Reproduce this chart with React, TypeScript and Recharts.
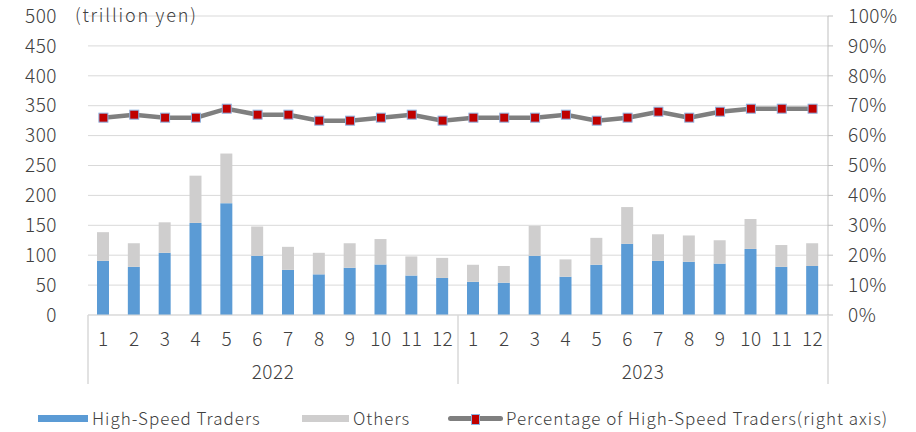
import { ComposedChart, Bar, Line, XAxis, YAxis, CartesianGrid, Legend } from 'recharts'

const months = ['1', '2', '3', '4', '5', '6', '7', '8', '9', '10', '11', '12',
  '1', '2', '3', '4', '5', '6', '7', '8', '9', '10', '11', '12']
const years = ['2022', '2023']

// trillion yen
const highSpeed = [90.5, 80.5, 104, 154, 187, 99, 75.5, 68, 79, 84.5, 66, 62,
  55.5, 54, 99, 64, 84, 119, 90.5, 89, 86, 110.5, 80.5, 82]
const others = [48, 39.5, 51, 79, 83, 49, 38.5, 36, 41, 42.5, 32, 33.5,
  28.5, 28, 50, 29, 45, 61.5, 44.5, 44, 39, 50, 36.5, 38]
// %
const share = [66, 67, 66, 66, 69, 67, 67, 65, 65, 66, 67, 65,
  66, 66, 66, 67, 65, 66, 68, 66, 68, 69, 69, 69]

const leftTicks = [0, 50, 100, 150, 200, 250, 300, 350, 400, 450, 500]
const rightTicks = [0, 10, 20, 30, 40, 50, 60, 70, 80, 90, 100]
const yearTicks = [0, 6, 12, 18, 24]

const data = months.map((m, i) => ({
  idx: i,
  month: `${m}-${i}`,
  hst: highSpeed[i],
  others: others[i],
  share: share[i],
}))

const FONT = '"Noto Sans CJK JP", "Noto Sans", sans-serif'
const TEXT = '#404040'
const BLUE = '#5B9BD5'
const GRAY = '#CFCECE'
const LINE = '#7F7F7F'
const RED = '#C00000'

function MonthTick({ x, y, payload }: any) {
  const label = String(payload.value).split('-')[0]
  return (
    <text x={x} y={y} dy={14} textAnchor="middle" fontSize={19} fontWeight={300}
      fill={TEXT} fontFamily={FONT} letterSpacing={0.5}>
      {label}
    </text>
  )
}

function YearTick({ x, y, payload }: any) {
  const v = payload.value as number
  if (v % 12 === 0) {
    return <line x1={x} x2={x} y1={y - 40} y2={y + 29} stroke="#D9D9D9" strokeWidth={1.5} />
  }
  return (
    <text x={x} y={y + 24} textAnchor="middle" fontSize={19} fontWeight={300}
      fill={TEXT} fontFamily={FONT} letterSpacing={0.5}>
      {years[Math.floor(v / 12)]}
    </text>
  )
}

function SquareDot({ cx, cy, index }: any) {
  return (
    <rect key={index} x={cx - 4.5} y={cy - 4.5} width={9} height={9}
      fill={RED} stroke="#8DB4E2" strokeWidth={1} />
  )
}

function UnitLabel({ viewBox }: any) {
  return (
    <text x={viewBox.x + viewBox.width - 13} y={viewBox.y} dy={6} fontSize={18} fontWeight={300}
      fill={TEXT} fontFamily={FONT} letterSpacing={1.8}>
      (trillion yen)
    </text>
  )
}

function LegendBox() {
  const text = {
    position: 'absolute' as const, top: 23, fontSize: 17, fontWeight: 300, letterSpacing: 1,
    color: TEXT, fontFamily: FONT, whiteSpace: 'nowrap' as const, lineHeight: '20px',
  }
  const swatch = { position: 'absolute' as const, top: 30, height: 7 }
  return (
    <div style={{ position: 'relative', height: 47, width: 916 }}>
      <span style={{ ...swatch, left: 38, width: 50, background: BLUE }} />
      <span style={{ ...text, left: 92 }}>High-Speed Traders</span>
      <span style={{ ...swatch, left: 302, width: 47, background: GRAY }} />
      <span style={{ ...text, left: 353 }}>Others</span>
      <span style={{ ...swatch, top: 31, left: 448, width: 55, height: 5, background: LINE, borderRadius: 3 }} />
      <span style={{ position: 'absolute', left: 471, top: 29, width: 7, height: 9, background: RED, border: '1px solid #8DB4E2' }} />
      <span style={{ ...text, left: 506 }}>Percentage of High-Speed Traders(right axis)</span>
    </div>
  )
}

export default function App() {
  return (
    <div style={{ position: 'absolute', left: 0, top: 0, background: '#fff' }}>
      <ComposedChart width={916} height={432} data={data}
        margin={{ top: 16, right: 0, bottom: 0, left: 0 }}>
        <CartesianGrid vertical={false} stroke="#D9D9D9" yAxisId="left" xAxisId="month" />
        <XAxis xAxisId="month" dataKey="month" height={40} tickSize={0} tickMargin={17}
          interval={0} tick={<MonthTick />} axisLine={{ stroke: '#D9D9D9' }} tickLine={false} />
        <XAxis xAxisId="year" dataKey="idx" type="number" domain={[0, 24]} ticks={yearTicks}
          allowDataOverflow height={30} tickSize={0} tickMargin={0} interval={0}
          tick={<YearTick />} axisLine={false} tickLine={false} />
        <YAxis yAxisId="left" domain={[0, 500]} ticks={leftTicks} width={88}
          axisLine={false} tickLine={false} tickSize={0} tickMargin={31}
          tick={{ fontSize: 19, fontWeight: 300, fill: TEXT, fontFamily: FONT, letterSpacing: 0.5 }}
          label={<UnitLabel />} />
        <YAxis yAxisId="right" orientation="right" domain={[0, 100]} ticks={rightTicks} width={88}
          axisLine={{ stroke: '#BFBFBF' }} tickLine={{ stroke: '#BFBFBF' }} tickSize={5} tickMargin={15}
          tickFormatter={(v: number) => `${v}%`}
          tick={{ fontSize: 19, fontWeight: 300, fill: TEXT, fontFamily: FONT, textAnchor: 'start', letterSpacing: 0.5 }} />
        <Legend verticalAlign="bottom" content={<LegendBox />} />
        <Bar xAxisId="month" yAxisId="left" dataKey="hst" stackId="a" fill={BLUE} barSize={12}
          isAnimationActive={false} />
        <Bar xAxisId="month" yAxisId="left" dataKey="others" stackId="a" fill={GRAY} barSize={12}
          isAnimationActive={false} />
        <Line xAxisId="month" yAxisId="right" dataKey="share" type="linear" stroke={LINE}
          strokeWidth={4.5} dot={<SquareDot />} activeDot={false} isAnimationActive={false} />
      </ComposedChart>
    </div>
  )
}
